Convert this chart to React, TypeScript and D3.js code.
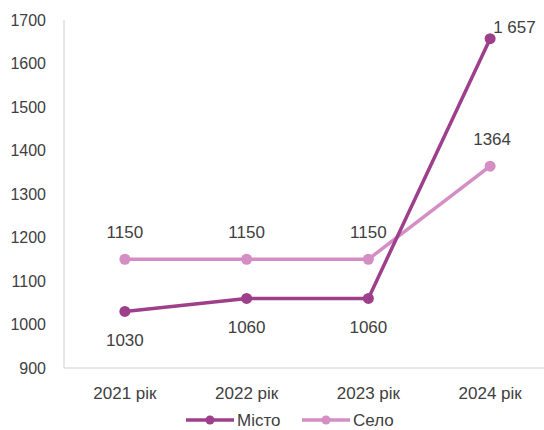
import React from "react";
import * as d3 from "d3";

const categories = ["2021 рік", "2022 рік", "2023 рік", "2024 рік"];
const seriesNames = ["Місто", "Село"];
const mistoValues = [1030, 1060, 1060, 1657];
const seloValues = [1150, 1150, 1150, 1364];
const mistoLabels = ["1030", "1060", "1060", "1 657"];
const seloLabels = ["1150", "1150", "1150", "1364"];
const yTicks = [900, 1000, 1100, 1200, 1300, 1400, 1500, 1600, 1700];

const W = 544;
const H = 430;
const left = 64;
const right = 551;
const top = 20;
const bottom = 368;
const colors = ["#9E3F8C", "#D58EC4"];
const font = "'Liberation Sans', Arial, sans-serif";
const textColor = "#404040";
const fs = 17;

export default function App() {
  const x = d3.scaleBand<string>().domain(categories).range([left, right]);
  const cx = (c: string) => (x(c) ?? 0) + x.bandwidth() / 2;
  const y = d3.scaleLinear().domain([900, 1700]).range([bottom, top]);
  const line = d3
    .line<number>()
    .x((_, i) => cx(categories[i]))
    .y((d) => y(d));

  return (
    <svg
      width={W}
      height={H}
      style={{ position: "absolute", left: 0, top: 0, background: "#fff" }}
      fontFamily={font}
    >
      {yTicks.map((t) => (
        <text
          key={t}
          x={46}
          y={y(t)}
          dy="0.35em"
          textAnchor="end"
          fontSize={16}
          fill={textColor}
        >
          {t}
        </text>
      ))}
      <line x1={left} x2={left} y1={top} y2={bottom} stroke="#d0d0d0" strokeWidth={1} />
      <line x1={left} x2={right} y1={bottom} y2={bottom} stroke="#d0d0d0" strokeWidth={1} />
      {categories.map((c) => (
        <text
          key={c}
          x={cx(c)}
          y={393}
          dy="0.35em"
          textAnchor="middle"
          fontSize={fs}
          fill={textColor}
        >
          {c}
        </text>
      ))}
      <path d={line(seloValues) ?? ""} fill="none" stroke={colors[1]} strokeWidth={3.5} />
      <path d={line(mistoValues) ?? ""} fill="none" stroke={colors[0]} strokeWidth={3.5} />
      {seloValues.map((v, i) => (
        <circle key={"s" + i} cx={cx(categories[i])} cy={y(v)} r={5.5} fill={colors[1]} />
      ))}
      {mistoValues.map((v, i) => (
        <circle key={"m" + i} cx={cx(categories[i])} cy={y(v)} r={5.5} fill={colors[0]} />
      ))}
      {seloValues.map((v, i) => (
        <text
          key={"sl" + i}
          x={cx(categories[i]) + (i === 3 ? 2 : 0)}
          y={y(v) - 27}
          dy="0.35em"
          textAnchor="middle"
          fontSize={fs}
          fill={textColor}
        >
          {seloLabels[i]}
        </text>
      ))}
      {mistoValues.map((v, i) => (
        <text
          key={"ml" + i}
          x={i === 3 ? cx(categories[i]) + 3 : cx(categories[i])}
          y={i === 3 ? y(v) - 12 : y(v) + 29}
          dy="0.35em"
          textAnchor={i === 3 ? "start" : "middle"}
          fontSize={fs}
          fill={textColor}
        >
          {mistoLabels[i]}
        </text>
      ))}
      {seriesNames.map((n, i) => {
        const lx = i === 0 ? 186 : 302;
        const ly = 420;
        return (
          <g key={n}>
            <line x1={lx} x2={lx + 48} y1={ly} y2={ly} stroke={colors[i]} strokeWidth={3.5} />
            <circle cx={lx + 24} cy={ly} r={4.5} fill={colors[i]} />
            <text x={lx + 51} y={ly} dy="0.35em" fontSize={fs} fill={textColor}>
              {n}
            </text>
          </g>
        );
      })}
    </svg>
  );
}
